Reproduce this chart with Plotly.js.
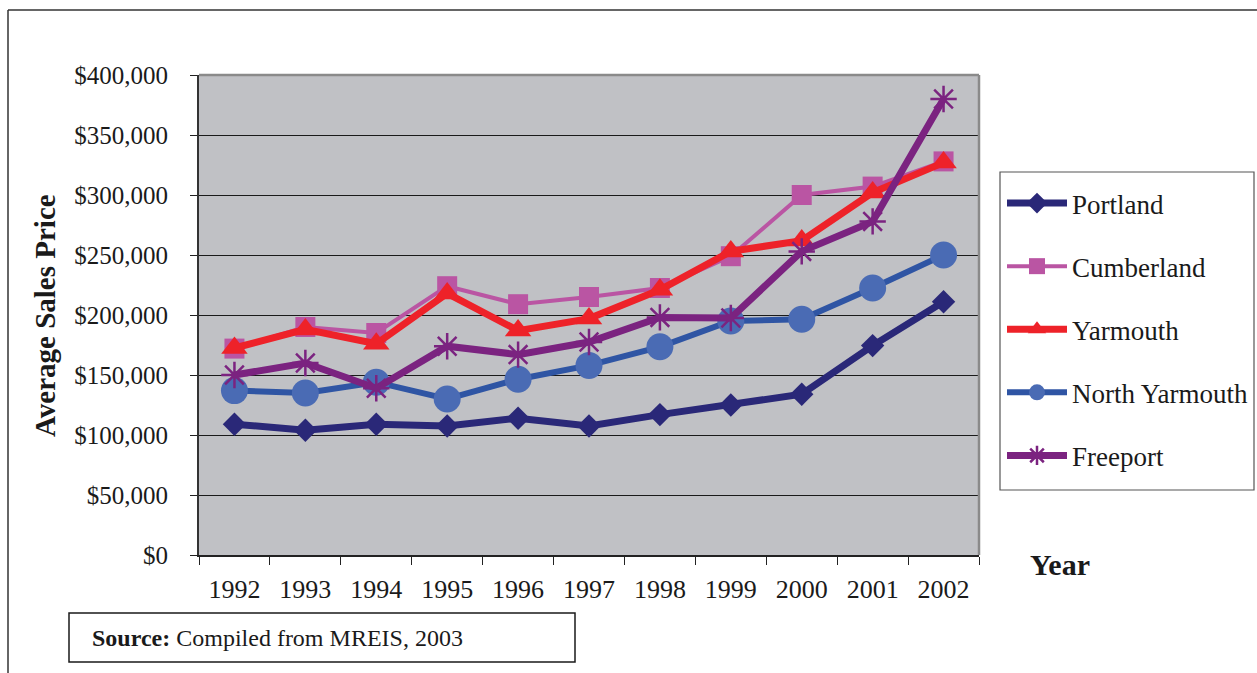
<!DOCTYPE html>
<html>
<head>
<meta charset="utf-8">
<script src="https://cdn.plot.ly/plotly-3.0.1.min.js"></script>
<style>html,body{margin:0;padding:0;background:#fff;}#chart{width:1257px;height:673px;}</style>
</head>
<body>
<div id="chart"></div>
<script>
const years = ['1992','1993','1994','1995','1996','1997','1998','1999','2000','2001','2002'];
const portland      = [109000,104000,109000,107500,114000,107500,117000,125000,134000,174500,211000];
const cumberland    = [172000,190000,185000,224000,209000,215000,222500,249000,300000,307000,328000];
const yarmouth      = [172500,188000,176000,218000,187000,197000,221000,253000,262000,302000,327000];
const northYarmouth = [137000,135000,144000,130000,146500,158000,173500,195000,196500,222500,250000];
const freeport      = [150000,160000,139000,174000,167000,177500,198000,197500,253000,278000,380000];
const yTicks = [0,50000,100000,150000,200000,250000,300000,350000,400000];

const serif = '"Liberation Serif","Times New Roman",serif';

function tr(name, y, lineColor, lineWidth, symbol, size, markerColor, extra) {
  const m = {symbol: symbol, size: size, color: markerColor};
  if (extra) Object.assign(m, extra);
  return {
    type: 'scatter', mode: 'lines+markers', name: name, x: years, y: y,
    legendgroup: name,
    line: {color: lineColor, width: lineWidth},
    marker: m
  };
}

const data = [
  tr('Portland', portland, '#2A2878', 7, 'diamond', 18, '#2A2878'),
  tr('Cumberland', cumberland, '#BA55A3', 4, 'square', 20, '#BA55A3'),
  tr('Yarmouth', yarmouth, '#EE2229', 7, 'triangle-up', 23, '#EE2229'),
  tr('North Yarmouth', northYarmouth, '#2F55A4', 6, 'circle', 27, '#4A6BB4'),
  tr('Freeport', freeport, '#7B2380', 7, 'asterisk-open', 22, '#7B2380', {line: {color: '#7B2380', width: 2.5}})
];

const px = x => (x - 199) / 780;
const py = y => (555 - y) / 480;

const layout = {
  width: 1257, height: 673,
  margin: {l: 199, r: 278, t: 75, b: 118, autoexpand: false},
  paper_bgcolor: '#ffffff',
  plot_bgcolor: '#C0C1C5',
  font: {family: serif, color: '#1a1a1a', size: 25},
  showlegend: true,
  legend: {
    x: px(1002), y: py(179), xanchor: 'left', yanchor: 'top',
    bgcolor: 'rgba(0,0,0,0)', borderwidth: 0,
    font: {family: serif, size: 27, color: '#1a1a1a'},
    tracegroupgap: 25, itemwidth: 60
  },
  xaxis: {
    type: 'category', range: [-0.5, 10.5], fixedrange: true, automargin: false,
    tickson: 'boundaries', ticks: 'outside', ticklen: 8, tickcolor: '#222', tickwidth: 1,
    showline: true, linecolor: '#222', linewidth: 1.5, showgrid: false,
    tickfont: {family: serif, size: 26, color: '#1a1a1a'},
    ticklabelstandoff: 10
  },
  yaxis: {
    range: [0, 400000], tickvals: yTicks, tickformat: '$,.0f', fixedrange: true, automargin: false,
    ticks: 'outside', ticklen: 7, tickcolor: '#222', tickwidth: 1,
    showline: true, linecolor: '#333', linewidth: 2,
    showgrid: true, gridcolor: '#1a1a1a', gridwidth: 1, zeroline: false,
    tickfont: {family: serif, size: 25, color: '#1a1a1a'},
    ticklabelstandoff: 17
  },
  shapes: [
    {type: 'line', xref: 'paper', yref: 'paper', x0: 0, x1: 1, y0: 1, y1: 1, line: {color: '#8a8a8a', width: 2.5}},
    {type: 'line', xref: 'paper', yref: 'paper', x0: 1, x1: 1, y0: 0, y1: 1, line: {color: '#8a8a8a', width: 2.5}},
    {type: 'line', xref: 'paper', yref: 'paper', x0: px(8), x1: px(1262), y0: py(10), y1: py(10), line: {color: '#333', width: 1.5}},
    {type: 'line', xref: 'paper', yref: 'paper', x0: px(8), x1: px(8), y0: py(10), y1: py(680), line: {color: '#333', width: 1.5}},
    {type: 'rect', xref: 'paper', yref: 'paper', x0: px(69), x1: px(575), y0: py(613), y1: py(662), line: {color: '#1a1a1a', width: 1.5}, fillcolor: 'rgba(0,0,0,0)'},
    {type: 'rect', xref: 'paper', yref: 'paper', x0: px(1000), x1: px(1254), y0: py(172), y1: py(490), line: {color: '#555555', width: 1.2}, fillcolor: 'rgba(0,0,0,0)'}
  ],
  annotations: [
    {xref: 'paper', yref: 'paper', x: px(45), y: py(316), text: '<b>Average Sales Price</b>', textangle: -90,
     showarrow: false, xanchor: 'center', yanchor: 'middle', font: {family: serif, size: 29, color: '#1a1a1a'}},
    {xref: 'paper', yref: 'paper', x: px(1060), y: py(564), text: '<b>Year</b>',
     showarrow: false, xanchor: 'center', yanchor: 'middle', font: {family: serif, size: 30, color: '#1a1a1a'}},
    {xref: 'paper', yref: 'paper', x: px(90), y: py(638), text: '<b>Source:</b> Compiled from MREIS, 2003',
     showarrow: false, xanchor: 'left', yanchor: 'middle', font: {family: serif, size: 24, color: '#1a1a1a'}}
  ]
};

Plotly.newPlot('chart', data, layout, {displayModeBar: false, staticPlot: true});
</script>
</body>
</html>
